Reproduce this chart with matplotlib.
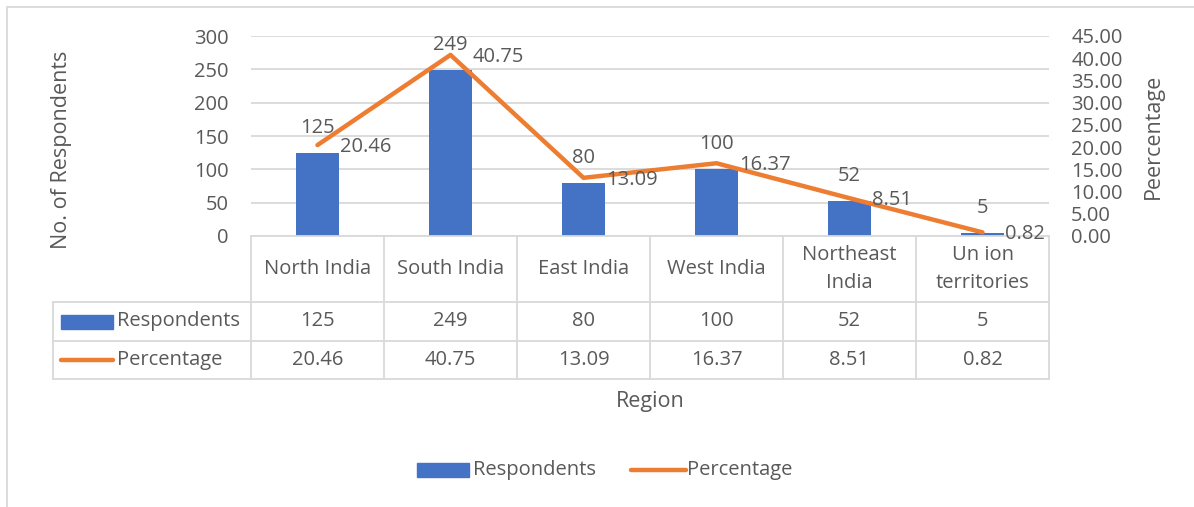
import matplotlib
matplotlib.use("Agg")
import matplotlib.pyplot as plt
from matplotlib.patches import Rectangle
from matplotlib.lines import Line2D
import matplotlib.transforms as mtransforms

categories = ["North India", "South India", "East India", "West India", "Northeast\nIndia", "Un ion\nterritories"]
respondents = [125, 249, 80, 100, 52, 5]
percentage = [20.46, 40.75, 13.09, 16.37, 8.51, 0.82]
pct_labels = ["20.46", "40.75", "13.09", "16.37", "8.51", "0.82"]
left_ticks = [0, 50, 100, 150, 200, 250, 300]
right_ticks = [0, 5, 10, 15, 20, 25, 30, 35, 40, 45]

BLUE = "#4472C4"
ORANGE = "#ED7D31"
TXT = "#595959"
GRID = "#D9D9D9"
FONT = "Open Sans"
FS = 14.5

W, H = 1194, 507
fig = plt.figure(figsize=(W / 100, H / 100), dpi=100)
plt.rcParams['font.family'] = [FONT, 'DejaVu Sans']

def fx(px):
    return px / W

def fy(py):
    return 1 - py / H

# chart border
fig.patches.append(Rectangle((fx(7), fy(520)), fx(1200), fy(7) - fy(520), transform=fig.transFigure,
                             fill=False, edgecolor=GRID, linewidth=1.3))

pl, pr, pt, pb = 251, 1049, 36, 236
ax = fig.add_axes([fx(pl), fy(pb), fx(pr - pl), fy(pt) - fy(pb)])
ax2 = ax.twinx()

x = list(range(len(categories)))
ax.bar(x, respondents, width=0.32, color=BLUE, zorder=2)
ax.set_xlim(-0.5, len(categories) - 0.5)
ax.set_ylim(0, 300)
ax.set_yticks(left_ticks)
ax.yaxis.grid(True, color=GRID, linewidth=1.3, zorder=0)
ax.set_axisbelow(True)
ax.set_xticks([])
for s in ax.spines.values():
    s.set_visible(False)
ax.tick_params(axis='y', length=0, pad=16, labelsize=FS, labelcolor=TXT)

ax2.plot(x, percentage, color=ORANGE, linewidth=3.2, solid_capstyle='round', zorder=3)
ax2.set_ylim(0, 45)
ax2.set_yticks(right_ticks)
ax2.set_yticklabels([f"{v:.2f}" for v in right_ticks])
ax2.tick_params(axis='y', length=0, pad=16, labelsize=FS, labelcolor=TXT)
for s in ax2.spines.values():
    s.set_visible(False)

# data labels
for i, v in enumerate(respondents):
    ax.annotate(str(v), (i, v), xytext=(0, 18), textcoords='offset points', ha='center', va='center',
                fontsize=FS, color=TXT)
for i, v in enumerate(percentage):
    ax2.annotate(pct_labels[i], (i, v), xytext=(16, -1.5), textcoords='offset points', ha='left', va='center',
                 fontsize=FS, color=TXT)

ax.set_ylabel("No. of Respondents", fontsize=FS + 1, color=TXT)
ax.yaxis.set_label_coords((62 - pl) / (pr - pl) + 0.012, 0.43)
ax2.set_ylabel("Peercentage", fontsize=FS + 1, color=TXT)
ax2.yaxis.set_label_coords((1152 - pl) / (pr - pl) - 0.012, (236 - 136) / 200)

# data table
trans = mtransforms.blended_transform_factory(ax.transData, ax.transAxes)
def ay(py):
    return (pb - py) / (pb - pt)

n = len(categories)
y_top, y_h, y_r1, y_r2 = ay(236), ay(302), ay(341), ay(379)
x_left = -0.5 - (pl - 53) / ((pr - pl) / n)
lk = dict(color=GRID, linewidth=1.3, transform=trans, clip_on=False)
for i in range(n + 1):
    ax.add_line(Line2D([i - 0.5, i - 0.5], [y_top, y_r2], **lk))
ax.add_line(Line2D([x_left, x_left], [y_h, y_r2], **lk))
ax.add_line(Line2D([-0.5, n - 0.5], [y_top, y_top], **lk))
for yy in (y_h, y_r1, y_r2):
    ax.add_line(Line2D([x_left, n - 0.5], [yy, yy], **lk))

for i, c in enumerate(categories):
    ax.text(i, (y_top + y_h) / 2, c, transform=trans, ha='center', va='center', fontsize=FS, color=TXT,
            linespacing=1.5)
    ax.text(i, (y_h + y_r1) / 2, str(respondents[i]), transform=trans, ha='center', va='center',
            fontsize=FS, color=TXT)
    ax.text(i, (y_r1 + y_r2) / 2, pct_labels[i], transform=trans, ha='center', va='center',
            fontsize=FS, color=TXT)

# legend keys inside table
unit = (pr - pl) / n
def dx(px):
    return (px - pl) / unit - 0.5
ax.add_patch(Rectangle((dx(61), ay(329)), dx(113) - dx(61), ay(315) - ay(329), transform=trans,
                       color=BLUE, clip_on=False))
ax.text(dx(117), (y_h + y_r1) / 2, "Respondents", transform=trans, ha='left', va='center', fontsize=FS, color=TXT)
ax.add_line(Line2D([dx(61), dx(113)], [ay(360), ay(360)], color=ORANGE, linewidth=3.2,
                   solid_capstyle='round', transform=trans, clip_on=False))
ax.text(dx(117), (y_r1 + y_r2) / 2, "Percentage", transform=trans, ha='left', va='center', fontsize=FS, color=TXT)

# axis title
fig.text(fx(650), fy(401), "Region", ha='center', va='center', fontsize=FS + 1, color=TXT)

# bottom legend
fig.patches.append(Rectangle((fx(417), fy(477)), fx(469) - fx(417), fy(463) - fy(477),
                             transform=fig.transFigure, color=BLUE))
fig.text(fx(473), fy(470), "Respondents", ha='left', va='center', fontsize=FS, color=TXT)
fig.lines.append(Line2D([fx(631), fx(686)], [fy(470), fy(470)], transform=fig.transFigure, color=ORANGE,
                        linewidth=3.2, solid_capstyle='round'))
fig.text(fx(687), fy(470), "Percentage", ha='left', va='center', fontsize=FS, color=TXT)

fig.savefig("out.png", dpi=100)
